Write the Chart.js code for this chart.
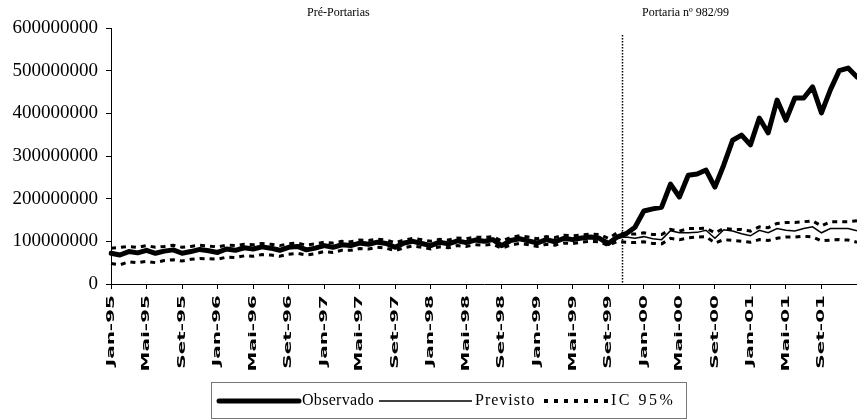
<!DOCTYPE html>
<html>
<head>
<meta charset="utf-8">
<script src="https://cdn.jsdelivr.net/npm/chart.js@4.4.0/dist/chart.umd.min.js"></script>
<style>
    html, body { margin: 0; padding: 0; background: #fff; }
    #wrap { width: 857px; height: 419px; }
</style>
</head>
<body>
<div id="wrap"><canvas id="container" width="857" height="419"></canvas></div>
<script>
// Monthly series, Jan-95 .. Jan-02 (values in millions)
const monthNames = ['Jan', 'Fev', 'Mar', 'Abr', 'Mai', 'Jun', 'Jul', 'Ago', 'Set', 'Out', 'Nov', 'Dez'];
const years = ['95', '96', '97', '98', '99', '00', '01', '02'];

const observado = [
    72, 68, 76, 73, 79, 72, 77, 80, 72, 76, 81, 78,
    74, 82, 79, 85, 82, 87, 84, 79, 86, 88, 80, 84,
    90, 86, 92, 90, 96, 93, 98, 95, 86, 96, 100, 95,
    90, 98, 94, 101, 97, 103, 100, 104, 90, 102, 106, 101,
    96, 104, 99, 107, 104, 108, 110, 107, 95, 110, 118, 133,
    171, 176, 180, 234, 204, 255, 258, 267, 227, 279, 337, 349,
    326, 389, 354, 431, 384, 436, 436, 462, 401, 455, 500, 506,
    485
];

const previsto = [
    70, 70, 74, 75, 77, 74, 76, 79, 74, 77, 80, 78,
    76, 80, 80, 83, 83, 86, 84, 81, 85, 87, 82, 85,
    89, 87, 91, 91, 94, 94, 97, 95, 89, 95, 99, 96,
    92, 97, 95, 100, 98, 102, 101, 103, 93, 101, 105, 102,
    98, 103, 101, 106, 105, 107, 109, 108, 99, 108, 110, 107,
    111, 106, 104, 125, 120, 120, 121, 126, 107, 127, 124, 118,
    113, 126, 120, 130, 126, 124, 130, 134, 120, 130, 130, 130,
    125
];

const icSuperior = [
    84, 86, 88, 86, 90, 86, 88, 91, 86, 88, 91, 89,
    87, 91, 90, 93, 92, 95, 93, 90, 94, 96, 91, 94,
    98, 96, 100, 99, 103, 102, 105, 103, 97, 103, 107, 104,
    100, 105, 103, 108, 106, 110, 109, 111, 101, 109, 113, 110,
    106, 111, 109, 114, 113, 115, 117, 116, 107, 120, 118, 117,
    120, 116, 116, 128, 124, 130, 130, 131, 120, 130, 128, 128,
    124, 134, 132, 142, 144, 144, 146, 148, 136, 146, 146, 146,
    148
];

const icInferior = [
    48, 45, 52, 50, 53, 50, 55, 57, 54, 58, 60, 59,
    58, 63, 62, 66, 65, 69, 68, 65, 70, 72, 68, 71,
    76, 74, 79, 79, 83, 82, 86, 84, 78, 85, 89, 86,
    82, 87, 85, 90, 88, 92, 91, 93, 84, 91, 95, 92,
    88, 93, 91, 96, 95, 98, 100, 99, 90, 100, 98, 97,
    99, 95, 94, 107, 104, 108, 110, 111, 96, 104, 102, 100,
    98, 104, 102, 107, 110, 110, 112, 110, 101, 103, 104, 103,
    98
];

const yTicks = [0, 100000000, 200000000, 300000000, 400000000, 500000000, 600000000];

const months = [];
years.forEach(y => monthNames.forEach(m => months.push(m + '-' + y)));
const labels = months.slice(0, observado.length);

const tickEvery = 4;
const lastTick = 80;          // Set-01
const portariaAt = 57.5;      // between Out-99 and Nov-99
const periodTitles = [
    { text: 'Pré-Portarias', at: 25.6 },
    { text: 'Portaria nº 982/99', at: 64.7 }
];

const toUnits = arr => arr.map(v => v * 1e6);

let chart;

// Marker line, period titles, rotated month labels and the boxed legend
const extras = {
    id: 'extras',
    afterDraw(c) {
        const ctx = c.ctx;
        const xs = c.scales.x;
        const ys = c.scales.y;
        const n = labels.length - 1;
        const at = i => xs.getPixelForDecimal(i / n);

        ctx.save();
        // vertical dotted line
        const vx = Math.round(at(portariaAt)) + 0.5;
        ctx.strokeStyle = '#000';
        ctx.lineWidth = 1.5;
        ctx.setLineDash([1.5, 1.5]);
        ctx.beginPath();
        ctx.moveTo(vx, 35);
        ctx.lineTo(vx, ys.bottom);
        ctx.stroke();
        ctx.setLineDash([]);

        ctx.fillStyle = '#000';
        ctx.font = '12px "Liberation Serif"';
        ctx.textAlign = 'center';
        ctx.textBaseline = 'middle';
        periodTitles.forEach(t => ctx.fillText(t.text, at(t.at), 13));

        // month labels, stretched like the original
        ctx.font = 'bold 10px "DejaVu Sans"';
        labels.forEach((m, i) => {
            if (i % tickEvery !== 0 || i > lastTick) return;
            const x = xs.getPixelForValue(i);
            ctx.save();
            ctx.translate(x, xs.top + 11);
            ctx.rotate(-Math.PI / 2);
            ctx.scale(2.0, 1.05);
            ctx.textAlign = 'right';
            ctx.textBaseline = 'middle';
            ctx.fillText(m, 0, 0);
            ctx.restore();
        });

        // legend
        ctx.strokeStyle = '#777';
        ctx.lineWidth = 1;
        ctx.strokeRect(211.5, 382.5, 475, 36);

        const ly = 401;
        ctx.strokeStyle = '#000';
        ctx.lineCap = 'round';
        ctx.lineWidth = 5;
        ctx.beginPath(); ctx.moveTo(219, ly); ctx.lineTo(299, ly); ctx.stroke();
        ctx.lineCap = 'butt';
        ctx.lineWidth = 1.5;
        ctx.beginPath(); ctx.moveTo(379, ly); ctx.lineTo(472, ly); ctx.stroke();
        ctx.lineWidth = 4;
        ctx.setLineDash([4, 6]);
        ctx.beginPath(); ctx.moveTo(544, ly); ctx.lineTo(608, ly); ctx.stroke();
        ctx.setLineDash([]);

        ctx.font = '16px "Liberation Serif"';
        ctx.textAlign = 'left';
        ctx.textBaseline = 'middle';
        ctx.letterSpacing = '0.3px';
        ctx.fillText('Observado', 302, ly);
        ctx.letterSpacing = '1px';
        ctx.fillText('Previsto', 475, ly);
        ctx.letterSpacing = '2.5px';
        ctx.fillText('IC 95%', 611, ly);
        ctx.restore();
    }
};

function createChart() {
    const ctx = document.getElementById('container').getContext('2d');
    const line = { pointRadius: 0, tension: 0, borderColor: '#000', fill: false };

    chart = new Chart(ctx, {
        type: 'line',
        data: {
            labels: labels,
            datasets: [
                { ...line, label: 'Observado', data: toUnits(observado), borderWidth: 5, borderJoinStyle: 'round', borderCapStyle: 'round' },
                { ...line, label: 'Previsto', data: toUnits(previsto), borderWidth: 1.5 },
                { ...line, label: 'IC 95%', data: toUnits(icSuperior), borderWidth: 3, borderDash: [5, 5] },
                { ...line, label: 'IC 95% inf', data: toUnits(icInferior), borderWidth: 3, borderDash: [5, 5] }
            ]
        },
        options: {
            responsive: false,
            animation: false,
            layout: { padding: { top: 28, right: 0, bottom: 0, left: 0 } },
            plugins: {
                legend: { display: false },
                tooltip: { enabled: false }
            },
            scales: {
                x: {
                    ticks: { display: false, autoSkip: false },
                    grid: {
                        drawOnChartArea: false,
                        tickLength: 5,
                        color: c => (c.index % tickEvery === 0 && c.index <= lastTick) ? '#000' : 'rgba(0,0,0,0)'
                    },
                    border: { color: '#000', width: 1 },
                    afterFit: s => { s.height = 135; }
                },
                y: {
                    min: yTicks[0],
                    max: yTicks[yTicks.length - 1],
                    afterBuildTicks: s => { s.ticks = yTicks.map(v => ({ value: v })); },
                    ticks: {
                        color: '#000',
                        padding: 8,
                        font: { family: 'Liberation Serif', size: 19 },
                        callback: v => v.toFixed(0)
                    },
                    grid: { drawOnChartArea: false, tickLength: 5, color: '#000' },
                    border: { color: '#000', width: 1 },
                    afterFit: s => { s.width = 111; }
                }
            }
        },
        plugins: [extras]
    });
}

window.onload = createChart;
</script>
</body>
</html>
